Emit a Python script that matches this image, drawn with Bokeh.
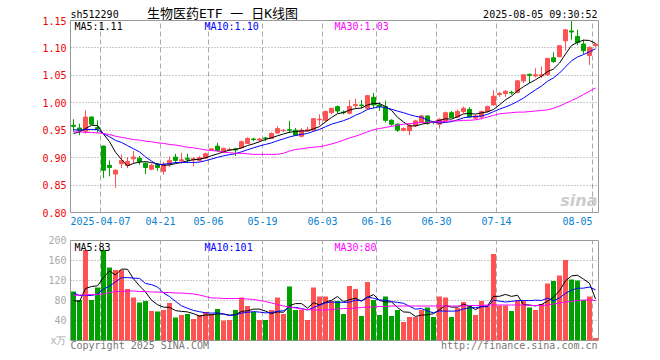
import pandas as pd
from bokeh.plotting import figure
from bokeh.models import Range1d, FixedTicker, Label, ColumnDataSource, LinearAxis
from bokeh.layouts import column
from bokeh.embed import file_html
from bokeh.resources import INLINE

# ---------------- data ----------------
holidays = ["2025-04-04", "2025-05-01", "2025-05-02", "2025-05-05", "2025-06-02"]
dates = [d.strftime("%Y-%m-%d") for d in pd.bdate_range("2025-03-28", "2025-08-05")
         if d.strftime("%Y-%m-%d") not in holidays]

opens = [0.959, 0.954, 0.948, 0.974, 0.955, 0.921, 0.886, 0.870, 0.889, 0.886,
         0.898, 0.899, 0.890, 0.879, 0.887, 0.875, 0.888, 0.901, 0.894, 0.899,
         0.896, 0.895, 0.899, 0.914, 0.921, 0.910, 0.914, 0.916, 0.918, 0.926,
         0.934, 0.932, 0.936, 0.935, 0.945, 0.949, 0.951, 0.950, 0.939, 0.949,
         0.950, 0.969, 0.968, 0.982, 0.993, 0.983, 0.981, 0.995, 0.996, 0.990,
         1.010, 0.996, 0.993, 0.968, 0.961, 0.950, 0.949, 0.958, 0.965, 0.976,
         0.965, 0.961, 0.967, 0.982, 0.974, 0.984, 0.988, 0.972, 0.974, 0.984,
         0.996, 1.015, 1.017, 1.019, 1.019, 1.040, 1.052, 1.049, 1.049, 1.051,
         1.082, 1.084, 1.113, 1.131, 1.121, 1.107, 1.086, 1.104]
highs = [0.970, 0.962, 0.986, 0.975, 0.968, 0.922, 0.895, 0.879, 0.906, 0.901,
         0.912, 0.903, 0.891, 0.889, 0.890, 0.892, 0.902, 0.907, 0.909, 0.907,
         0.901, 0.903, 0.909, 0.917, 0.927, 0.918, 0.918, 0.918, 0.931, 0.937,
         0.936, 0.936, 0.938, 0.946, 0.957, 0.952, 0.967, 0.954, 0.954, 0.956,
         0.972, 0.979, 0.986, 0.990, 0.995, 0.986, 1.005, 1.007, 1.005, 1.014,
         1.018, 1.001, 1.004, 0.970, 0.962, 0.955, 0.962, 0.969, 0.978, 0.977,
         0.967, 0.972, 0.984, 0.985, 0.988, 0.993, 0.992, 0.978, 0.986, 0.995,
         1.023, 1.020, 1.023, 1.022, 1.041, 1.052, 1.053, 1.063, 1.066, 1.082,
         1.092, 1.105, 1.134, 1.149, 1.133, 1.115, 1.103, 1.108]
lows = [0.947, 0.941, 0.944, 0.960, 0.945, 0.863, 0.866, 0.845, 0.881, 0.881,
        0.889, 0.887, 0.870, 0.877, 0.876, 0.869, 0.883, 0.890, 0.889, 0.890,
        0.884, 0.893, 0.898, 0.913, 0.911, 0.908, 0.912, 0.903, 0.917, 0.925,
        0.930, 0.929, 0.930, 0.934, 0.944, 0.947, 0.945, 0.940, 0.937, 0.948,
        0.948, 0.959, 0.965, 0.979, 0.981, 0.979, 0.979, 0.990, 0.990, 0.988,
        0.990, 0.985, 0.964, 0.958, 0.947, 0.948, 0.941, 0.956, 0.963, 0.960,
        0.961, 0.953, 0.964, 0.972, 0.972, 0.981, 0.973, 0.970, 0.970, 0.982,
        0.995, 1.011, 1.011, 1.015, 1.017, 1.036, 1.036, 1.046, 1.045, 1.049,
        1.073, 1.083, 1.095, 1.115, 1.105, 1.089, 1.069, 1.102]
closes = [0.957, 0.950, 0.974, 0.961, 0.952, 0.877, 0.882, 0.877, 0.895, 0.893,
          0.901, 0.893, 0.882, 0.886, 0.882, 0.888, 0.895, 0.895, 0.896, 0.897,
          0.898, 0.900, 0.907, 0.916, 0.913, 0.917, 0.915, 0.914, 0.929, 0.935,
          0.933, 0.934, 0.935, 0.944, 0.953, 0.950, 0.950, 0.941, 0.950, 0.951,
          0.971, 0.970, 0.984, 0.990, 0.985, 0.982, 0.993, 0.997, 0.995, 1.013,
          0.996, 0.993, 0.968, 0.961, 0.950, 0.953, 0.958, 0.967, 0.976, 0.962,
          0.964, 0.970, 0.982, 0.973, 0.984, 0.990, 0.974, 0.976, 0.984, 0.993,
          1.012, 1.017, 1.021, 1.018, 1.040, 1.051, 1.050, 1.051, 1.051, 1.081,
          1.075, 1.104, 1.133, 1.129, 1.110, 1.095, 1.101, 1.107]
volumes = [98, 81, 181, 81, 106, 181, 146, 141, 141, 103,
           86, 76, 79, 59, 58, 61, 75, 46, 51, 53,
           43, 51, 57, 53, 63, 40, 41, 61, 86, 69,
           57, 41, 41, 61, 86, 53, 108, 61, 61, 41,
           106, 88, 88, 79, 79, 53, 109, 103, 49, 117,
           81, 51, 88, 49, 61, 37, 47, 47, 61, 66,
           47, 88, 86, 47, 65, 77, 69, 51, 79, 69,
           173, 70, 70, 59, 81, 79, 66, 61, 73, 114,
           119, 130, 161, 122, 120, 81, 88, 5]
# closes / volumes of the sessions just before the window (for MA5 / MA10)
prior_closes = [0.960, 0.962, 0.958, 0.955, 0.955, 0.935, 0.944, 0.931, 0.953]
prior_volumes = [131, 181, 81, 76, 81, 91, 51, 61, 99]
# 30-day averages
ma30_price = [0.947, 0.947, 0.946, 0.946, 0.945, 0.944, 0.942, 0.939, 0.937, 0.935,
              0.933, 0.932, 0.930, 0.929, 0.927, 0.926, 0.924, 0.923, 0.921, 0.919,
              0.918, 0.916, 0.914, 0.913, 0.912, 0.910, 0.909, 0.908, 0.908, 0.907,
              0.906, 0.906, 0.906, 0.906, 0.906, 0.908, 0.912, 0.915, 0.916, 0.918,
              0.919, 0.920, 0.922, 0.925, 0.928, 0.932, 0.936, 0.939, 0.943, 0.947,
              0.951, 0.953, 0.955, 0.957, 0.959, 0.961, 0.962, 0.963, 0.964, 0.964,
              0.965, 0.966, 0.966, 0.967, 0.967, 0.968, 0.968, 0.969, 0.971, 0.974,
              0.977, 0.980, 0.981, 0.982, 0.983, 0.983, 0.984, 0.985, 0.986, 0.987,
              0.990, 0.994, 0.999, 1.004, 1.009, 1.015, 1.021, 1.027]
ma30_volume = [90, 91, 91, 92, 92, 93, 96, 98, 98, 99,
               99, 98, 98, 97, 97, 96, 96, 95, 95, 94,
               93, 91, 88, 85, 85, 84, 84, 84, 84, 83,
               82, 80, 78, 75, 72, 69, 67, 65, 63, 62,
               61, 61, 61, 62, 63, 64, 64, 65, 66, 67,
               67, 68, 68, 69, 69, 69, 69, 69, 69, 69,
               69, 69, 69, 69, 69, 69, 70, 70, 70, 71,
               71, 71, 71, 71, 71, 71, 70, 70, 70, 71,
               73, 75, 77, 78, 80, 81, 81, 80]
tick_dates = ["2025-04-07", "2025-04-21", "2025-05-06", "2025-05-19", "2025-06-03",
              "2025-06-16", "2025-06-30", "2025-07-14", "2025-08-05"]
price_ticks = [0.80, 0.85, 0.90, 0.95, 1.00, 1.05, 1.10, 1.15]
volume_ticks = [0, 40, 80, 120, 160, 200]
code = "sh512290"
title = "生物医药ETF 一 日K线图"
stamp = "2025-08-05 09:30:52"
copyright_text = "Copyright 2025 SINA.COM"
url_text = "http://finance.sina.com.cn"

# ---------------- derived ----------------
n = len(closes)
def rolling(prior, vals, w):
    full = list(prior) + list(vals)
    k = len(prior)
    return [sum(full[k + i - w + 1:k + i + 1]) / w for i in range(len(vals))]

ma5 = rolling(prior_closes, closes, 5)
ma10 = rolling(prior_closes, closes, 10)
vma5 = rolling(prior_volumes, volumes, 5)
vma10 = rolling(prior_volumes, volumes, 10)

UP, DOWN = "#ff5252", "#00a000"
xs = [i + 0.5 for i in range(n)]
colors = [UP if c >= o else DOWN for o, c in zip(opens, closes)]
src = ColumnDataSource(dict(
    x=xs, o=opens, h=highs, l=lows, c=closes,
    top=[max(o, c) for o, c in zip(opens, closes)],
    bot=[min(o, c) for o, c in zip(opens, closes)],
    v=volumes, color=colors, ma5=ma5, ma10=ma10, ma30=ma30_price,
    vma5=vma5, vma10=vma10, vma30=ma30_volume))

MONO = "DejaVu Sans Mono"
CHAR_W = 6.02          # width of one 10px mono character
GRID = "#aaaaaa"
grid_pos = [dates.index(d) for d in tick_dates]
axis_pos = list(grid_pos)
axis_pos[-1] = grid_pos[-1] - 2.5
axis_labels = {}
for k, (pos, d) in enumerate(zip(axis_pos, tick_dates)):
    axis_labels[pos] = d if k == 0 else d[5:]

xr = Range1d(0, n)

def px_x(px):
    return (px - 70) / 6.0

def py1(py):
    return 1.15 - (py - 20) / 192.0 * 0.35

def py2(py):
    return 200 - (py - 240) / 100.0 * 200

def plain_axis(ax, color, size="10px", font=MONO, standoff=4):
    ax.axis_line_color = None
    ax.major_tick_line_color = None
    ax.minor_tick_line_color = None
    ax.major_tick_out = 0
    ax.major_tick_in = 0
    ax.major_label_standoff = standoff
    ax.major_label_text_color = color
    ax.major_label_text_font = font
    ax.major_label_text_font_size = size

def text_axis(fig, place, items, color, size="10px", font=MONO, standoff=0):
    """An axis used only to print fixed texts beside the frame."""
    ax = LinearAxis(ticker=FixedTicker(ticks=[pos for pos, _ in items]),
                    major_label_overrides={pos: t for pos, t in items})
    plain_axis(ax, color, size, font, standoff)
    fig.add_layout(ax, place)
    return ax

def lab(fig, x, y, text, color="black", align="left", size="10px", font=MONO, style="normal"):
    fig.add_layout(Label(x=x, y=y, text=text, text_color=color, text_align=align,
                         text_baseline="middle", text_font=font, text_font_size=size,
                         text_font_style=style))

# ---------------- price panel ----------------
p = figure(frame_width=528, frame_height=192, x_range=xr, y_range=Range1d(0.80, 1.15),
           min_border_left=70, min_border_right=12, min_border_top=20, min_border_bottom=17,
           output_backend="svg", toolbar_location=None, background_fill_color="white",
           border_fill_color="white")
p.outline_line_color = "#999999"
p.xgrid.ticker = FixedTicker(ticks=grid_pos)
p.xgrid.grid_line_color = GRID
p.xgrid.grid_line_dash = "5 3"
p.ygrid.ticker = FixedTicker(ticks=price_ticks[1:-1])
p.ygrid.grid_line_color = "#999999"
p.ygrid.grid_line_dash = "1 2"

p.xaxis.ticker = FixedTicker(ticks=axis_pos)
p.xaxis.major_label_overrides = axis_labels
plain_axis(p.xaxis[0], "#0a7fd0")
p.yaxis.ticker = FixedTicker(ticks=price_ticks)
p.yaxis.major_label_overrides = {t: f"{t:.2f}" for t in price_ticks}
plain_axis(p.yaxis[0], "#ee0000")

# header row: code / stamp nearest the frame, title sharing the same row
code_c = px_x(70 + len(code) * CHAR_W / 2)
stamp_c = px_x(597 - len(stamp) * CHAR_W / 2)
text_axis(p, "above", [(code_c, code), (stamp_c, stamp)], "black", standoff=1)
text_axis(p, "above", [(px_x(222), title)], "black", size="13px",
          font="DejaVu Sans Mono, Noto Sans CJK SC", standoff=-15)

p.segment(x0="x", y0="l", x1="x", y1="h", color="color", line_width=1, source=src)
p.vbar(x="x", width=0.67, top="top", bottom="bot", fill_color="color",
       line_color="color", line_width=1, source=src)
p.line("x", "ma5", color="black", line_width=1, source=src)
p.line("x", "ma10", color="#0000ff", line_width=1, source=src)
p.line("x", "ma30", color="#ff00ff", line_width=1, source=src)

lab(p, px_x(74), py1(26), f"MA5:{ma5[-1]:.2f}")
lab(p, px_x(204), py1(26), f"MA10:{ma10[-1]:.2f}", color="#0000ff")
lab(p, px_x(334), py1(26), f"MA30:{ma30_price[-1]:.2f}", color="#ff00ff")
lab(p, px_x(597), py1(200), "sina", color="#cccccc", align="right", size="16px",
    font="DejaVu Sans", style="bold italic")

# ---------------- volume panel ----------------
q = figure(frame_width=528, frame_height=100, x_range=xr, y_range=Range1d(0, 200),
           min_border_left=70, min_border_right=12, min_border_top=11, min_border_bottom=20,
           output_backend="svg", toolbar_location=None, x_axis_location=None,
           background_fill_color="white", border_fill_color="white")
q.outline_line_color = "#999999"
q.xgrid.ticker = FixedTicker(ticks=grid_pos)
q.xgrid.grid_line_color = GRID
q.xgrid.grid_line_dash = "5 3"
q.ygrid.ticker = FixedTicker(ticks=volume_ticks[1:-1])
q.ygrid.grid_line_color = "#999999"
q.ygrid.grid_line_dash = "1 2"
q.yaxis.ticker = FixedTicker(ticks=volume_ticks)
q.yaxis.major_label_overrides = {t: (str(t) if t else "x万") for t in volume_ticks}
plain_axis(q.yaxis[0], "#aaaaaa")

copy_c = px_x(70 + len(copyright_text) * CHAR_W / 2)
url_c = px_x(597 - len(url_text) * CHAR_W / 2)
text_axis(q, "below", [(copy_c, copyright_text), (url_c, url_text)], "#777777", standoff=-1)

q.vbar(x="x", width=5 / 6, top="v", bottom=0, fill_color="color", line_color=None, source=src)
q.line("x", "vma5", color="black", line_width=1, source=src)
q.line("x", "vma10", color="#0000ff", line_width=1, source=src)
q.line("x", "vma30", color="#ff00ff", line_width=1, source=src)

lab(q, px_x(74), py2(246.5), f"MA5:{vma5[-1]:.0f}")
lab(q, px_x(204), py2(246.5), f"MA10:{vma10[-1]:.0f}", color="#0000ff")
lab(q, px_x(334), py2(246.5), f"MA30:{ma30_volume[-1]:.0f}", color="#ff00ff")

layout = column(p, q, spacing=0)
open("out.html", "w").write(file_html(layout, INLINE))
